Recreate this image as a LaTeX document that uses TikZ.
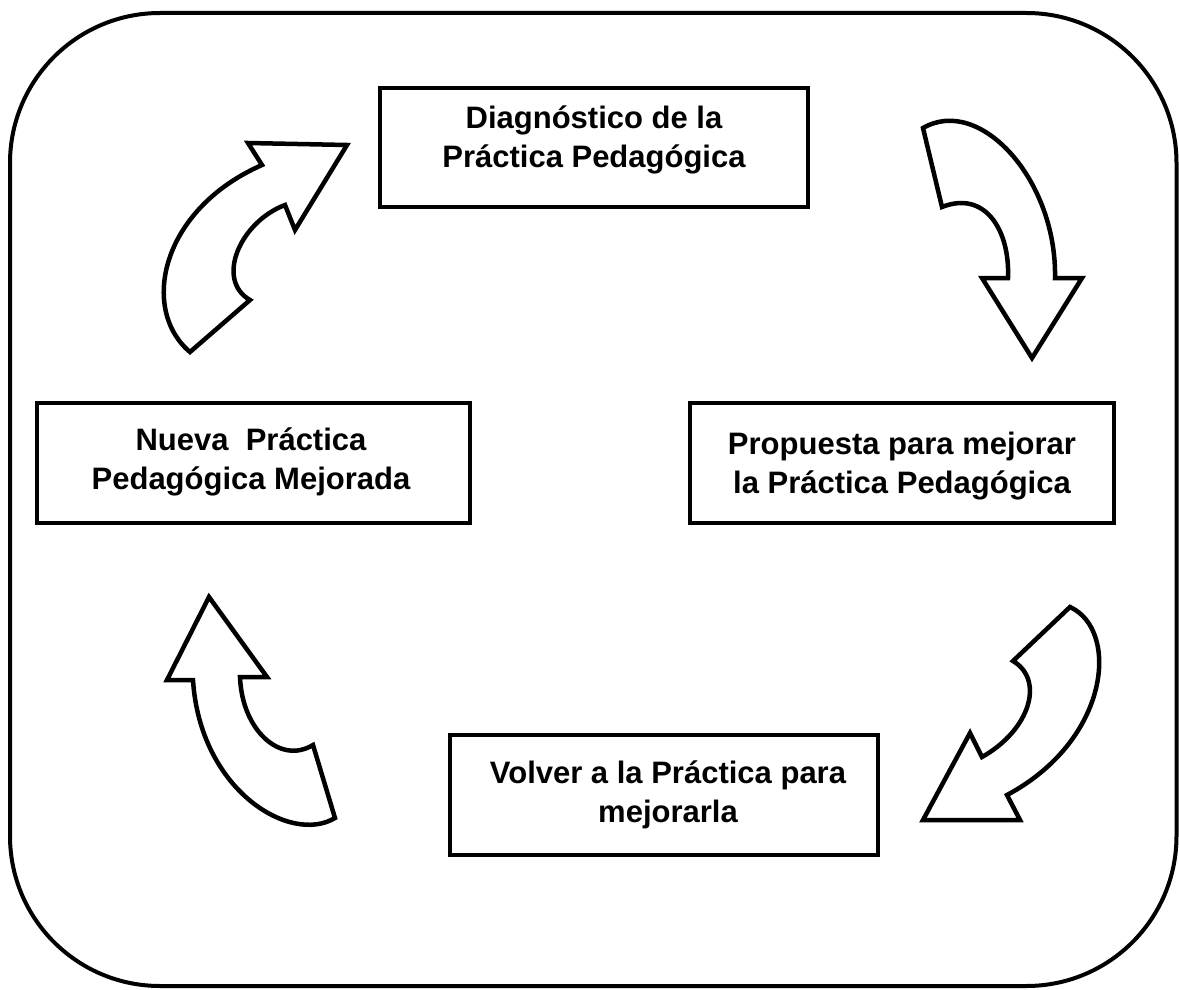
\documentclass[tikz,border=0pt]{standalone}
\usepackage{fontspec}
\setmainfont{Liberation Sans}
\begin{document}
\begin{tikzpicture}[x=1pt,y=-1pt,
  frame/.style={draw=black,line width=4pt,rounded corners=150pt},
  stagebox/.style={draw=black,line width=4.5pt,fill=white,inner sep=0pt},
  stagetext/.style={align=center,inner sep=0pt,font=\fontsize{31}{39}\selectfont\bfseries},
  bentarrow/.style={draw=black,line width=4.5pt,fill=white,line join=miter}]
\useasboundingbox (0,0) rectangle (1179,990);
\draw[frame] (10,13) rectangle (1176.5,986);

% boxes
\node[stagebox,minimum width=428pt,minimum height=119pt] (diag) at (594,147.5) {};
\node[stagetext] (diagt) at (594,140) {Diagnóstico de la\\Práctica Pedagógica};
\node[stagebox,minimum width=424pt,minimum height=120pt] (prop) at (902,463) {};
\node[stagetext] (propt) at (902,466) {Propuesta para mejorar\\la Práctica Pedagógica};
\node[stagebox,minimum width=433pt,minimum height=120pt] (nueva) at (253.5,463) {};
\node[stagetext] (nuevat) at (251,462) {Nueva\ \ Práctica\\Pedagógica Mejorada};
\node[stagebox,minimum width=428pt,minimum height=120pt] (volver) at (664,795) {};
\node[stagetext] (volvert) at (668,795) {Volver a la Práctica para\\mejorarla};

% arrow top-left (up-right toward Diagnostico)
\draw[bentarrow] (347,145) -- (295,230) -- (285,205)
  .. controls (240,222) and (215,280) .. (250,300)
  -- (190,352)
  .. controls (140,310) and (160,210) .. (262,165)
  -- (248,143) -- cycle;

% arrow top-right (down toward Propuesta)
\draw[bentarrow] (923,128)
  .. controls (980,95) and (1057,180) .. (1055,278)
  -- (1082,278) -- (1032,358) -- (982,278) -- (1008,278)
  .. controls (1010,230) and (985,190) .. (942,207)
  -- cycle;

% arrow bottom-right (down-left toward Volver)
\draw[bentarrow] (1070,607)
  .. controls (1120,630) and (1110,740) .. (1007,795)
  -- (1020,820) -- (923,820) -- (970,733) -- (982,757)
  .. controls (1030,730) and (1045,680) .. (1013,661)
  -- cycle;

% arrow bottom-left (up toward Nueva)
\draw[bentarrow] (209,597) -- (267,677) -- (240,677)
  .. controls (242,730) and (280,765) .. (313,745)
  -- (335,818)
  .. controls (290,845) and (200,790) .. (193,680)
  -- (167,680) -- cycle;
\end{tikzpicture}
\end{document}
